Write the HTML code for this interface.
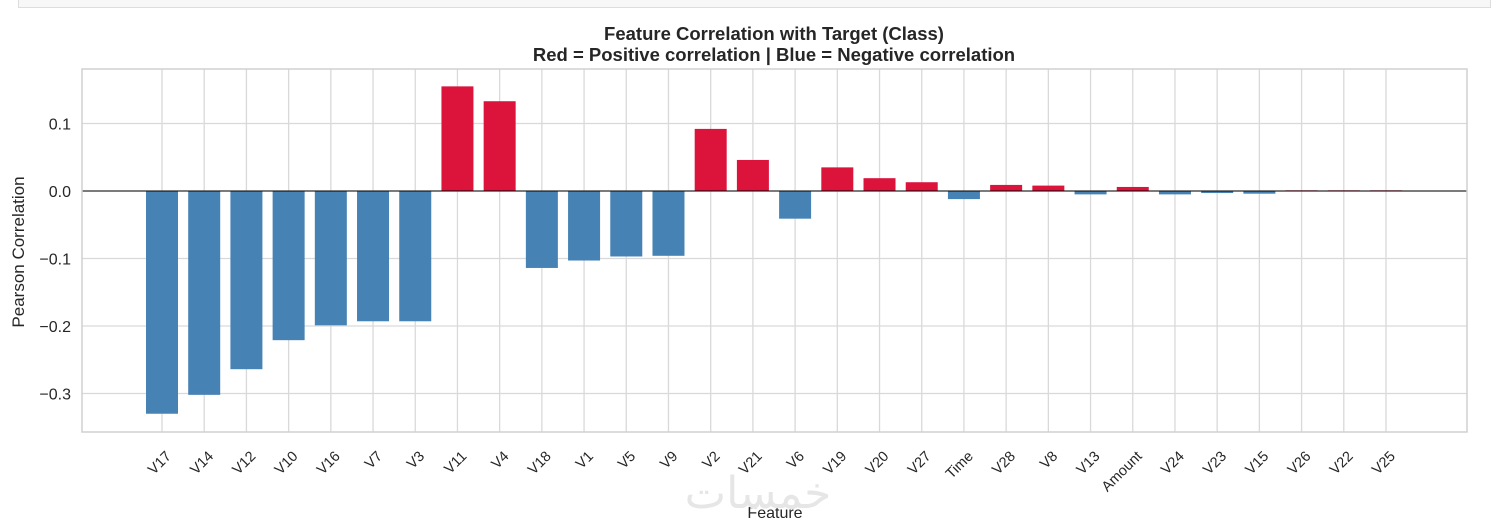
<!DOCTYPE html>
<html><head><meta charset="utf-8"><style>
body{margin:0;background:#fff;width:1511px;height:526px;overflow:hidden;font-family:"Liberation Sans",sans-serif}
</style></head><body>
<svg id="c" width="1511" height="526" xmlns="http://www.w3.org/2000/svg">
<rect x="18.5" y="-2" width="1472" height="9.5" fill="#f7f7f7" stroke="#ddd"/>
<text x="774" y="40" text-anchor="middle" font-size="18.5" font-weight="bold" fill="#262626">Feature Correlation with Target (Class)</text>
<text x="774" y="61" text-anchor="middle" font-size="18.5" font-weight="bold" fill="#262626">Red = Positive correlation | Blue = Negative correlation</text>
<text x="24" y="252" transform="rotate(-90 24 252)" text-anchor="middle" font-size="17" fill="#262626">Pearson Correlation</text>
<text x="775" y="518" text-anchor="middle" font-size="16" fill="#262626">Feature</text>
<text x="758" y="508" text-anchor="middle" font-size="44" fill="#e6e6e6" font-family="'Liberation Sans','DejaVu Sans',sans-serif">خمسات</text>
<g id="g"></g>
</svg>
<script>
const categories=["V17","V14","V12","V10","V16","V7","V3","V11","V4","V18","V1","V5","V9","V2","V21","V6","V19","V20","V27","Time","V28","V8","V13","Amount","V24","V23","V15","V26","V22","V25"];
const values=[-0.330,-0.302,-0.264,-0.221,-0.199,-0.193,-0.193,0.155,0.133,-0.114,-0.103,-0.097,-0.096,0.092,0.046,-0.041,0.035,0.019,0.013,-0.012,0.009,0.008,-0.005,0.006,-0.005,-0.003,-0.004,0.001,0.001,0.001];
const yTicks=[0.1,0.0,-0.1,-0.2,-0.3];
const yTickLabels=["0.1","0.0","\u22120.1","\u22120.2","\u22120.3"];
const L=82,R=1467,T=69,B=432;
const x=i=>162+(i)*(1386-162)/29;
const y=v=>191-v*675;
const g=document.getElementById('g');
const NS="http://www.w3.org/2000/svg";
function mk(t,a){const e=document.createElementNS(NS,t);for(const k in a)e.setAttribute(k,a[k]);g.appendChild(e);return e;}
yTicks.forEach((v,i)=>{
  const l=mk('line',{x1:L,x2:R,y1:y(v),y2:y(v),stroke:'#d9d9d9','stroke-width':1.3});
  
  
  const t=mk('text',{x:L-11,y:y(v)+6,'text-anchor':'end','font-size':16,fill:'#262626'});
  t.textContent=yTickLabels[i];
  
  
});
categories.forEach((c,i)=>{
  const l=mk('line',{x1:x(i),x2:x(i),y1:T,y2:B,stroke:'#d9d9d9','stroke-width':1.3});
  
  
});
categories.forEach((c,i)=>{
  const v=values[i];
  const r=mk('rect',{x:x(i)-16,width:32,y:Math.min(y(v),y(0)),height:Math.max(Math.abs(y(v)-y(0)),0.5),fill:v>=0?'#dc143c':'#4682b4'});
  
  
  const t=mk('text',{x:x(i)+10,y:457,'text-anchor':'end','font-size':14.5,fill:'#262626',transform:`rotate(-45 ${x(i)+10} 457)`});
  t.textContent=c;
  
  
});
const z=mk('line',{x1:L,x2:R,y1:y(0),y2:y(0),stroke:'#000','stroke-width':1.1});


const f=mk('rect',{x:L,y:T,width:R-L,height:B-T,fill:'none',stroke:'#d0d0d0','stroke-width':1.5});


</script>
</body></html>
